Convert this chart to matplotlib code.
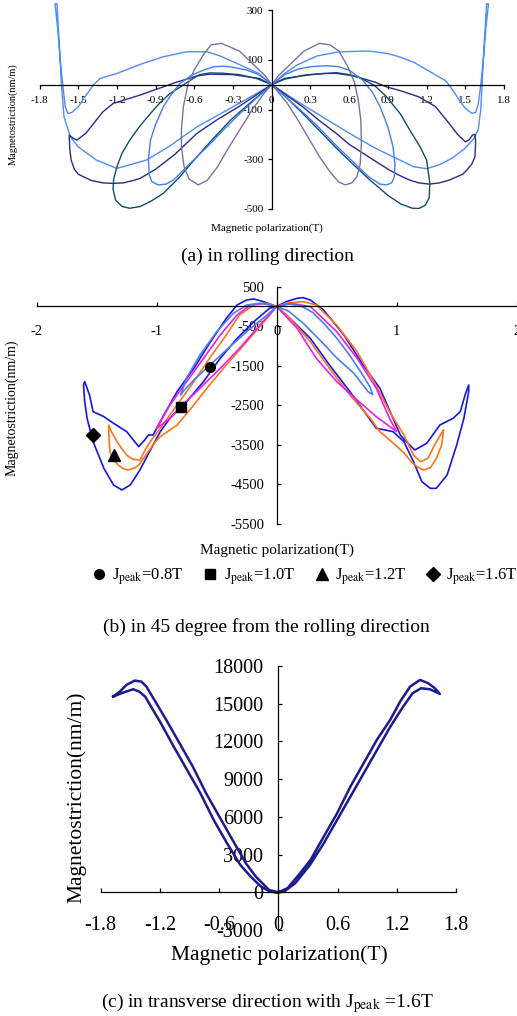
import numpy as np
import matplotlib
matplotlib.use("Agg")
import matplotlib.pyplot as plt

plt.rcParams['font.family'] = ['Liberation Serif', 'DejaVu Serif']
plt.rcParams['mathtext.fontset'] = 'stix'
plt.rcParams['axes.unicode_minus'] = False

# ---------------- (a) rolling direction ----------------
# each loop: right lobe (origin -> out -> origin) then left lobe
a_j07 = [0, 0.05, 0.14, 0.25, 0.37, 0.45, 0.52, 0.59, 0.64, 0.67, 0.69, 0.695, 0.685, 0.66, 0.62, 0.57,
         0.52, 0.45, 0.37, 0.28, 0.20, 0.12, 0.05, 0,
         -0.05, -0.14, -0.25, -0.39, -0.47, -0.53, -0.60, -0.65, -0.685, -0.70, -0.70, -0.68, -0.64, -0.57,
         -0.50, -0.42, -0.33, -0.24, -0.15, -0.06, 0]
a_l07 = [0, 35, 80, 135, 166, 160, 135, 72, 10, -60, -140, -236, -320, -370, -395, -403,
         -392, -350, -290, -210, -140, -75, -30, 0,
         35, 80, 135, 166, 160, 120, 60, 0, -89, -180, -250, -330, -380, -403,
         -385, -330, -250, -175, -100, -35, 0]

a_j10 = [0, 0.10, 0.20, 0.30, 0.42, 0.52, 0.60, 0.70, 0.78, 0.84, 0.90, 0.94, 0.955, 0.95, 0.93, 0.89,
         0.84, 0.75, 0.63, 0.50, 0.37, 0.25, 0.12, 0,
         -0.10, -0.19, -0.30, -0.37, -0.45, -0.53, -0.62, -0.71, -0.78, -0.84, -0.90, -0.94, -0.956, -0.95,
         -0.93, -0.88, -0.82, -0.76, -0.63, -0.50, -0.37, -0.25, -0.12, 0]
a_l10 = [0, 40, 62, 72, 76, 72, 58, 20, -30, -89, -170, -250, -320, -370, -395, -403,
         -400, -370, -310, -245, -175, -115, -55, 0,
         40, 58, 70, 74, 72, 58, 38, 5, -40, -89, -160, -223, -300, -360,
         -390, -403, -400, -383, -315, -250, -180, -118, -55, 0]

a_j12 = [0, 0.10, 0.25, 0.40, 0.50, 0.60, 0.68, 0.80, 0.89, 1.00, 1.07, 1.15, 1.20, 1.225, 1.22, 1.19,
         1.14, 1.09, 1.00, 0.90, 0.76, 0.62, 0.50, 0.37, 0.24, 0.12, 0,
         -0.12, -0.25, -0.38, -0.48, -0.56, -0.63, -0.71, -0.79, -0.87, -0.94, -1.02, -1.10, -1.16, -1.20,
         -1.225, -1.23, -1.21, -1.16, -1.10, -1.02, -0.94, -0.84, -0.72, -0.58, -0.45, -0.32, -0.16, 0]
a_l12 = [0, 22, 38, 45, 45, 38, 29, -5, -49, -120, -183, -250, -303, -397, -455, -485,
         -498, -497, -480, -445, -383, -315, -255, -185, -116, -55, 0,
         25, 40, 46, 47, 40, 18, -10, -36, -75, -116, -165, -223, -275, -330,
         -380, -420, -465, -490, -497, -490, -470, -437, -375, -290, -215, -143, -70, 0]

a_j16 = [0, 0.10, 0.30, 0.50, 0.60, 0.70, 0.80, 0.89, 1.00, 1.14, 1.27, 1.375, 1.44, 1.50, 1.53, 1.555,
         1.575, 1.58, 1.575, 1.55, 1.51, 1.48, 1.375, 1.30, 1.22, 1.14, 1.07, 0.99, 0.91, 0.75, 0.60,
         0.50, 0.37, 0.24, 0.12, 0,
         -0.10, -0.30, -0.48, -0.58, -0.66, -0.75, -0.84, -0.93, -1.02, -1.12, -1.23, -1.31, -1.38, -1.44,
         -1.51, -1.54, -1.57, -1.565, -1.555, -1.53, -1.50, -1.46, -1.40, -1.31, -1.23, -1.15, -1.07,
         -1.02, -0.90, -0.75, -0.58, -0.42, -0.26, -0.12, 0]
a_l16 = [0, 25, 40, 48, 40, 25, 10, -9, -25, -49, -89, -156, -200, -230, -222, -203,
         -200, -230, -290, -320, -345, -360, -384, -395, -400, -395, -384, -365, -343, -290, -240,
         -196, -145, -89, -45, 0,
         25, 40, 42, 35, 22, 8, -9, -25, -42, -58, -76, -110, -156, -195,
         -223, -215, -203, -260, -303, -340, -360, -370, -385, -395, -397, -395, -385,
         -377, -340, -280, -196, -140, -90, -42, 0]

a_j17 = [0, 0.10, 0.20, 0.35, 0.50, 0.60, 0.75, 0.90, 1.00, 1.10, 1.20, 1.30, 1.35, 1.40, 1.45, 1.50,
         1.55, 1.58, 1.60, 1.62, 1.64, 1.66, 1.68,
         1.665, 1.645, 1.63, 1.62, 1.60, 1.57, 1.50, 1.40, 1.30, 1.20, 1.10, 1.00, 0.80, 0.60, 0.40,
         0.20, 0,
         -0.10, -0.27, -0.40, -0.50, -0.66, -0.84, -1.00, -1.10, -1.20, -1.33, -1.38, -1.45, -1.50,
         -1.55, -1.58, -1.60, -1.62, -1.64, -1.66, -1.68,
         -1.665, -1.645, -1.63, -1.61, -1.56, -1.50, -1.36, -1.20, -0.97, -0.80, -0.58, -0.40, -0.20, 0]
a_l17 = [0, 45, 80, 115, 130, 133, 135, 125, 110, 90, 60, 30, 15, -20, -60, -95,
         -115, -112, -80, 0, 100, 230, 325,
         325, 150, 0, -100, -180, -215, -255, -295, -322, -338, -330, -305, -255, -195, -132,
         -68, 0,
         45, 85, 115, 132, 132, 112, 85, 65, 45, 25, 0, -50, -90,
         -112, -116, -90, 0, 100, 230, 325,
         325, 150, 0, -130, -210, -250, -303, -337, -303, -250, -170, -118, -60, 0]

# ---------------- (b) 45 degree ----------------
b_j08 = [0, 0.10, 0.20, 0.30, 0.40, 0.50, 0.60, 0.70, 0.78, 0.80, 0.76, 0.64, 0.50, 0.36, 0.22, 0.10, 0,
         -0.08, -0.14, -0.25, -0.36, -0.50, -0.64, -0.75, -0.80, -0.78, -0.69, -0.57, -0.42, -0.25, -0.08, 0]
b_l08 = [0, 60, 20, -150, -450, -800, -1200, -1650, -2050, -2230, -2150, -1680, -1300, -850, -420, -120, 0,
         60, 80, 38, -173, -636, -1230, -1800, -2240, -2150, -1858, -1521, -1100, -636, -215, 0]

b_j10 = [0, 0.11, 0.28, 0.50, 0.67, 0.83, 0.94, 1.00, 0.83, 0.67, 0.50, 0.33, 0.17, 0,
         -0.11, -0.22, -0.33, -0.47, -0.61, -0.75, -0.89, -1.00, -0.89, -0.80, -0.64, -0.47, -0.31, -0.14, 0]
b_l10 = [0, 80, 0, -636, -1310, -2069, -2828, -3165, -2786, -2364, -1900, -1310, -552, 0,
         80, 38, -215, -720, -1310, -1900, -2490, -3080, -2830, -2533, -2069, -1563, -1058, -468, 0]

b_j12 = [0, 0.08, 0.22, 0.33, 0.50, 0.67, 0.81, 0.94, 1.06, 1.14, 1.20, 1.26, 1.33, 1.375, 1.39, 1.385,
         1.375, 1.33, 1.28, 1.22, 1.17, 1.12, 1.06, 0.97, 0.86, 0.78, 0.61, 0.44, 0.28, 0.11, 0,
         -0.08, -0.19, -0.31, -0.42, -0.56, -0.69, -0.83, -0.97, -1.05, -1.10, -1.14, -1.20, -1.25, -1.33,
         -1.38, -1.40, -1.40, -1.39, -1.36, -1.32, -1.28, -1.24, -1.18, -1.15, -1.08, -1.02, -0.97, -0.83,
         -0.69, -0.56, -0.42, -0.25, -0.08, 0]
b_l12 = [0, 80, 122, 38, -468, -1142, -1900, -2659, -3249, -3760, -3924, -3840, -3420, -3200, -3122, -3250,
         -3500, -3850, -4080, -4134, -4050, -3920, -3700, -3450, -3165, -2828, -2237, -1563, -890, -299, 0,
         80, 38, -215, -720, -1310, -1900, -2490, -3080, -3400, -3650, -3885, -3860, -3760, -3422,
         -3150, -3000, -3200, -3675, -3880, -4010, -4100, -4135, -4080, -4010, -3713, -3450, -3290, -2996,
         -2490, -1985, -1480, -890, -299, 0]

b_j16 = [0, 0.08, 0.17, 0.22, 0.28, 0.39, 0.56, 0.72, 0.86, 0.97, 1.03, 1.08, 1.15, 1.25, 1.36, 1.47,
         1.53, 1.57, 1.60, 1.60, 1.56, 1.50, 1.42, 1.33, 1.28, 1.21, 1.14, 1.06, 0.97, 0.83, 0.75, 0.61,
         0.44, 0.28, 0.11, 0,
         -0.11, -0.19, -0.25, -0.33, -0.42, -0.56, -0.69, -0.83, -0.94, -1.03, -1.07, -1.10, -1.15, -1.25,
         -1.36, -1.44, -1.53, -1.56, -1.60, -1.61, -1.60, -1.58, -1.53, -1.44, -1.36, -1.29, -1.22, -1.14,
         -1.06, -0.97, -0.89, -0.75, -0.61, -0.47, -0.33, -0.19, -0.06, 0]
b_l16 = [0, 122, 206, 223, 164, -88, -720, -1480, -2069, -2828, -3250, -3418, -3629, -3460, -2996, -2828,
         -2659, -2237, -1985, -2153, -2828, -3502, -4260, -4598, -4598, -4430, -3924, -3418, -3165, -3080,
         -2743, -2153, -1480, -805, -299, 0,
         122, 190, 164, 38, -300, -930, -1563, -2153, -2743, -3250, -3250, -3376, -3544, -3165,
         -2953, -2786, -2659, -2237, -1900, -1985, -2405, -2828, -3418, -4093, -4513, -4640, -4513, -4135,
         -3671, -3165, -2828, -2405, -1900, -1310, -805, -384, -46, 0]

b_mark_j = [-0.56, -0.80, -1.355, -1.535]
b_mark_l = [-1520, -2530, -3760, -3250]
b_mark_shape = ['o', 's', '^', 'D']
b_mark_size = [7, 7, 8, 7]
b_labels = [r'J$_{\rm peak}$=0.8T', r'J$_{\rm peak}$=1.0T', r'J$_{\rm peak}$=1.2T', r'J$_{\rm peak}$=1.6T']

# ---------------- (c) transverse ----------------
c_j = [-1.673, -1.606, -1.539, -1.455, -1.388, -1.337, -1.236, -1.136, -1.001, -0.867, -0.732, -0.598,
       -0.464, -0.329, -0.228, -0.161, -0.094, -0.027, 0,
       0.057, 0.17, 0.32, 0.46, 0.595, 0.73, 0.865, 1.0, 1.135, 1.265, 1.36, 1.445, 1.536, 1.636,
       1.586, 1.519, 1.435, 1.335, 1.234, 1.133, 0.998, 0.864, 0.730, 0.595, 0.460, 0.326, 0.192, 0.091, 0,
       -0.027, -0.094, -0.175, -0.28, -0.385, -0.52, -0.655, -0.79, -0.925, -1.06, -1.19, -1.29,
       -1.35, -1.41, -1.472, -1.572, -1.673]
c_l = [15570, 15966, 16496, 16841, 16761, 16363, 15037, 13711, 11854, 9998, 7876, 6019,
       4162, 2305, 1244, 714, 183, 50, 0,
       50, 714, 2173, 3897, 5754, 7611, 9467, 11324, 13181, 14772, 15833, 16230, 16151, 15780,
       16230, 16628, 16894, 16363, 15170, 13711, 12120, 10263, 8406, 6284, 4427, 2570, 1244, 316, 0,
       -30, 103, 448, 1244, 2173, 3897, 5754, 7876, 9732, 11589, 13446, 14772,
       15568, 15966, 16151, 15886, 15570]

a_xticks = [-1.8, -1.5, -1.2, -0.9, -0.6, -0.3, 0, 0.3, 0.6, 0.9, 1.2, 1.5, 1.8]
a_xlabels = ['-1.8', '-1.5', '-1.2', '-0.9', '-0.6', '-0.3', '0', '0.3', '0.6', '0.9', '1.2', '1.5', '1.8']
a_yticks = [-500, -300, -100, 100, 300]
b_xticks = [-2, -1, 0, 1, 2]
b_yticks = [500, -500, -1500, -2500, -3500, -4500, -5500]
c_xticks = [-1.8, -1.2, -0.6, 0, 0.6, 1.2, 1.8]
c_xlabels = ['-1.8', '-1.2', '-0.6', '0', '0.6', '1.2', '1.8']
c_yticks = [-3000, 0, 3000, 6000, 9000, 12000, 15000, 18000]

W, H = 517, 1016
fig = plt.figure(figsize=(W / 100, H / 100), dpi=100)


def cross_axes(ax, tdir, tlen, xpad, ypad, fs):
    for s in ['top', 'right']:
        ax.spines[s].set_visible(False)
    ax.spines['left'].set_position(('data', 0))
    ax.spines['bottom'].set_position(('data', 0))
    for s in ['left', 'bottom']:
        ax.spines[s].set_linewidth(0.9)
    ax.tick_params(axis='both', direction=tdir, length=tlen, width=0.9, labelsize=fs)
    ax.tick_params(axis='x', pad=xpad)
    ax.tick_params(axis='y', pad=ypad)
    ax.patch.set_alpha(0)


# (a)
ax1 = fig.add_axes([39.5 / W, 1 - 209 / H, 464.5 / W, 199 / H])
ax1.plot(a_j17, a_l17, color='#4f8cf6', lw=1.0, clip_on=False)
ax1.plot(a_j16, a_l16, color='#2a2a8c', lw=1.0)
ax1.plot(a_j12, a_l12, color='#124c6c', lw=1.0)
ax1.plot(a_j10, a_l10, color='#3f7ff2', lw=1.0)
ax1.plot(a_j07, a_l07, color='#7474a4', lw=1.0)
ax1.set_xlim(-1.8, 1.8)
ax1.set_ylim(-500, 300)
ax1.set_xticks(a_xticks, a_xlabels)
ax1.set_yticks(a_yticks)
cross_axes(ax1, 'out', 3, 5.5, 3, 8)
fig.text(13 / W, 1 - 114 / H, 'Magnetostriction(nm/m)', rotation=90, ha='center', va='center', fontsize=7.5)
fig.text(267 / W, 1 - 228 / H, 'Magnetic polarization(T)', ha='center', va='center', fontsize=8)
fig.text(267 / W, 1 - 256 / H, '(a) in rolling direction', ha='center', va='center', fontsize=14)

# (b)
ax2 = fig.add_axes([36.7 / W, 1 - 524 / H, 480 / W, 237.3 / H])
ax2.plot(b_j16, b_l16, color='#1616e8', lw=1.2)
ax2.plot(b_j12, b_l12, color='#ff7418', lw=1.2)
ax2.plot(b_j10, b_l10, color='#f01cf0', lw=1.2)
ax2.plot(b_j08, b_l08, color='#4a80ec', lw=1.2)
handles = []
for j, l, m, s, lab in zip(b_mark_j, b_mark_l, b_mark_shape, b_mark_size, b_labels):
    h, = ax2.plot([j], [l], marker=m, ms=s, color='black', linestyle='none', label=lab)
    handles.append(h)
ax2.set_xlim(-2, 2)
ax2.set_ylim(-5500, 500)
ax2.set_xticks(b_xticks)
ax2.set_yticks(b_yticks)
cross_axes(ax2, 'in', 3, 13, 9, 10.5)
ax2.legend(handles=handles, ncol=4, frameon=False, fontsize=12, loc='center',
           bbox_to_anchor=(305 / W, 1 - 577 / H), bbox_transform=fig.transFigure,
           handlelength=0.8, handletextpad=0.4, columnspacing=1.2, borderpad=0)
fig.text(12 / W, 1 - 408 / H, 'Magnetostriction(nm/m)', rotation=90, ha='center', va='center', fontsize=10)
fig.text(277 / W, 1 - 550 / H, 'Magnetic polarization(T)', ha='center', va='center', fontsize=11)
fig.text(266 / W, 1 - 627 / H, '(b) in 45 degree from the rolling direction', ha='center', va='center',
         fontsize=14)

# (c)
ax3 = fig.add_axes([100.7 / W, 1 - 930 / H, 355.3 / W, 264 / H])
ax3.plot(c_j, c_l, color='#1c1c8e', lw=1.8)
ax3.set_xlim(-1.8, 1.8)
ax3.set_ylim(-3000, 18000)
ax3.set_xticks(c_xticks, c_xlabels)
ax3.set_yticks(c_yticks)
cross_axes(ax3, 'in', 3, 17, 11, 14.5)
fig.text(77 / W, 1 - 797 / H, 'Magnetostriction(nm/m)', rotation=90, ha='center', va='center', fontsize=15.5)
fig.text(279 / W, 1 - 955 / H, 'Magnetic polarization(T)', ha='center', va='center', fontsize=15.5)
fig.text(267 / W, 1 - 1003 / H, r'(c) in transverse direction with J$_{\rm peak}$ =1.6T', ha='center',
         va='center', fontsize=14)

fig.savefig('out.png', dpi=100)
